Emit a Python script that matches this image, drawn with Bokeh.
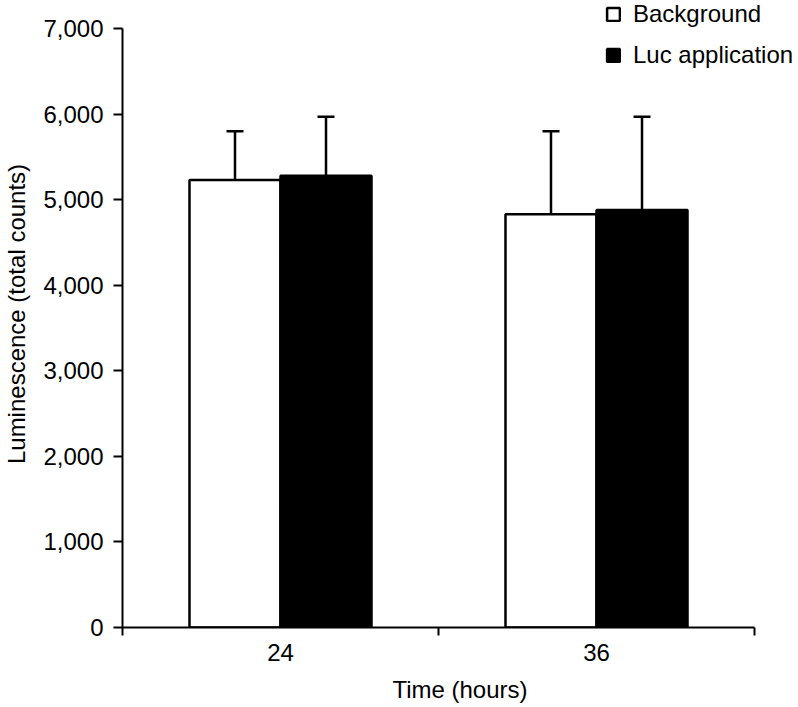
from bokeh.plotting import figure
from bokeh.models import (Range1d, FixedTicker, NumeralTickFormatter, ColumnDataSource,
                          Whisker, TeeHead, Legend, LegendItem)
from bokeh.embed import file_html
from bokeh.resources import INLINE

# data
times = ["24", "36"]
background = [5230, 4830]
background_err = [570, 970]
luc = [5280, 4880]
luc_err = [690, 1090]
series_names = ["Background", "Luc application"]
y_ticks = [0, 1000, 2000, 3000, 4000, 5000, 6000, 7000]
y_max = 7000

FONT = "Liberation Sans"
FS = "24px"
bar_w = 0.288
centers = [i + 0.5 for i in range(len(times))]

# layout (pixels)
cat_px = 316          # width of one category on screen
axis_px = 599         # height of the 0..7000 axis on screen
frame_w = 675         # frame extends right of axis end to hold the legend
frame_h = 627         # frame extends above axis top to hold the legend

p = figure(frame_width=frame_w, frame_height=frame_h, min_border_left=120, min_border_top=0,
           min_border_right=0, min_border_bottom=76,
           x_range=Range1d(0, frame_w / cat_px), y_range=Range1d(0, y_max * frame_h / axis_px),
           output_backend="svg", toolbar_location=None)
p.outline_line_color = None
p.xgrid.grid_line_color = None
p.ygrid.grid_line_color = None

bg_src = ColumnDataSource(dict(x=[c - bar_w / 2 for c in centers], top=background,
                               upper=[v + e for v, e in zip(background, background_err)]))
luc_src = ColumnDataSource(dict(x=[c + bar_w / 2 for c in centers], top=luc,
                                upper=[v + e for v, e in zip(luc, luc_err)]))

r_bg = p.vbar(x="x", top="top", width=bar_w, bottom=0, source=bg_src,
              fill_color="white", line_color="black", line_width=2.5)
r_luc = p.vbar(x="x", top="top", width=bar_w, bottom=0, source=luc_src,
               fill_color="black", line_color="black", line_width=2.5)

for src in (bg_src, luc_src):
    w = Whisker(base="x", lower="top", upper="upper", source=src,
                line_color="black", line_width=2.5,
                upper_head=TeeHead(size=17, line_width=2.5, line_color="black"),
                lower_head=None)
    p.add_layout(w)

# x axis: labels at centers, ticks at category boundaries
xa = p.xaxis[0]
xa.bounds = (0, len(times))
xa.ticker = FixedTicker(ticks=centers, minor_ticks=list(range(len(times) + 1)))
xa.major_label_overrides = {c: t for c, t in zip(centers, times)}
xa.major_tick_line_color = None
xa.major_tick_out = 8
xa.major_tick_in = 0
xa.minor_tick_line_color = "black"
xa.minor_tick_line_width = 2
xa.minor_tick_out = 8
xa.minor_tick_in = 0
xa.major_label_standoff = 8
xa.axis_label = "Time (hours)"
xa.axis_label_standoff = 12

ya = p.yaxis[0]
ya.bounds = (0, y_max)
ya.ticker = FixedTicker(ticks=y_ticks, minor_ticks=[])
ya.formatter = NumeralTickFormatter(format="0,0")
ya.major_tick_out = 9
ya.major_tick_in = 0
ya.major_tick_line_width = 2
ya.major_tick_line_color = "black"
ya.major_label_standoff = 10
ya.axis_label = "Luminescence (total counts)"
ya.axis_label_standoff = 10

for ax in (xa, ya):
    ax.axis_line_width = 2
    ax.axis_line_color = "black"
    ax.major_label_text_font = FONT
    ax.major_label_text_font_size = FS
    ax.major_label_text_color = "black"
    ax.axis_label_text_font = FONT
    ax.axis_label_text_font_size = FS
    ax.axis_label_text_font_style = "normal"
    ax.axis_label_text_color = "black"

legend = Legend(items=[LegendItem(label=series_names[0], renderers=[r_bg]),
                       LegendItem(label=series_names[1], renderers=[r_luc])],
                location=(483, 558), orientation="vertical")
legend.border_line_color = None
legend.background_fill_alpha = 0
legend.padding = 0
legend.margin = 0
legend.spacing = 13
legend.glyph_width = 16
legend.glyph_height = 16
legend.label_standoff = 12
legend.label_height = 28
legend.label_text_font = FONT
legend.label_text_font_size = FS
legend.label_text_color = "black"
p.add_layout(legend)

open("out.html", "w").write(file_html(p, INLINE))
